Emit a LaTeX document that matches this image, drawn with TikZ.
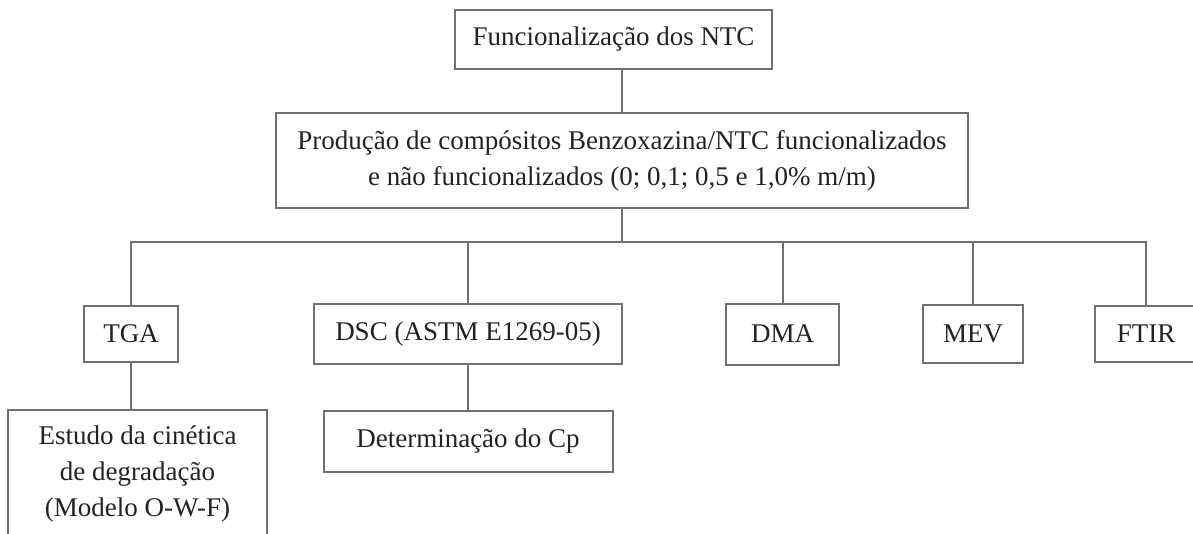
\documentclass[tikz,border=0pt]{standalone}
\usepackage{fontspec}
\setmainfont{Liberation Serif}
\usepackage{tikz}
\usetikzlibrary{positioning}
\definecolor{linegray}{RGB}{112,112,112}
\definecolor{textdark}{RGB}{34,34,34}

\begin{document}
\begin{tikzpicture}[
    x=1pt, y=1pt,
    box/.style={rectangle, draw=linegray, line width=1pt, text=textdark, align=center, inner sep=0pt, font=\fontsize{13.5pt}{18pt}\selectfont},
    link/.style={draw=linegray, line width=1pt}
]
    \useasboundingbox (0,0) rectangle (596.5,-267);
    \clip (0,0) rectangle (596.5,-267);

    % Composite production (centre block)
    \node[box, minimum width=346pt, minimum height=47.5pt] (production) at (311,-80.25) {Produção de compósitos Benzoxazina/NTC funcionalizados\\e não funcionalizados (0; 0,1; 0,5 e 1,0\% m/m)};

    % Functionalisation (top)
    \node[box, minimum width=158.5pt, minimum height=29.5pt, above=21pt of production, xshift=-4.25pt] (functional) {Funcionalização dos NTC};

    % Characterisation techniques
    \node[box, minimum width=47pt, minimum height=28pt] (tga) at (65.5,-167) {TGA};
    \node[box, minimum width=154pt, minimum height=30pt, right=67pt of tga] (dsc) {DSC (ASTM E1269-05)};
    \node[box, minimum width=56.5pt, minimum height=30.5pt, right=51pt of dsc] (dma) {DMA};
    \node[box, minimum width=50pt, minimum height=29pt, right=41pt of dma] (mev) {MEV};
    \node[box, minimum width=51pt, minimum height=28pt, right=35pt of mev] (ftir) {FTIR};

    % Follow-up studies
    \node[box, minimum width=129.5pt, minimum height=64pt, below=23pt of tga, xshift=3.25pt] (kinetics) {Estudo da cinética\\de degradação\\(Modelo O-W-F)};
    \node[box, minimum width=144.5pt, minimum height=30.5pt, below=22.5pt of dsc] (cp) {Determinação do Cp};

    % Connectors
    \draw[link] (production.north) -- (production.north |- functional.south);
    \draw[link] (production.south) -- ++(0,-16.5) coordinate (bus);
    \draw[link] (bus) -| (tga.north);
    \draw[link] (bus) -| (dsc.north);
    \draw[link] (bus) -| (dma.north);
    \draw[link] (bus) -| (mev.north);
    \draw[link] (bus) -| (ftir.north);

    \draw[link] (tga.south) -- (tga.south |- kinetics.north);
    \draw[link] (dsc) -- (cp);

\end{tikzpicture}
\end{document}
